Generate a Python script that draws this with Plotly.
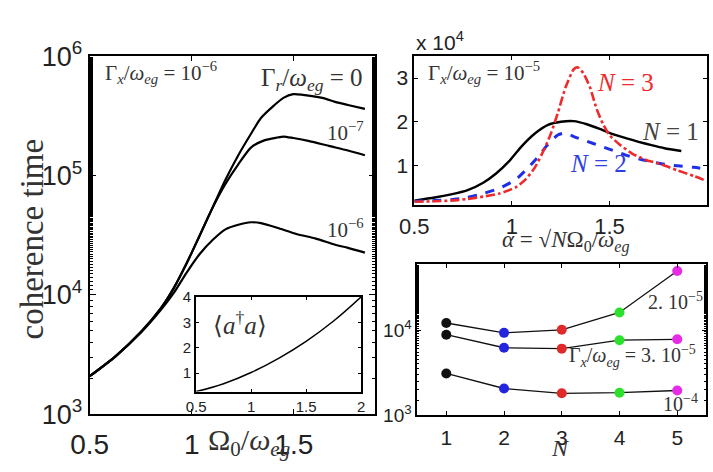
import plotly.graph_objects as go

W, H = 713, 472

# ---------------- data ----------------
# main panel: coherence time vs Omega0/omega_eg  (Gamma_x/omega_eg = 1e-6)
x_r0 = [0.5, 0.628, 0.754, 0.849, 0.912, 0.975, 1.039, 1.102, 1.165, 1.228, 1.291, 1.339,
        1.402, 1.449, 1.497, 1.544, 1.639, 1.702, 1.765, 1.848]
y_r0 = [2084, 3076, 4955, 7745, 11400, 18400, 31500, 53800, 92000, 148000, 225000, 303000,
        385000, 447000, 480000, 474000, 447000, 414000, 390000, 362000]

x_r7 = [0.5, 0.628, 0.754, 0.849, 0.912, 0.975, 1.039, 1.102, 1.165, 1.228, 1.291, 1.355,
        1.418, 1.449, 1.497, 1.576, 1.671, 1.765, 1.848]
y_r7 = [2084, 3076, 4955, 7745, 11400, 18400, 31500, 53800, 85100, 124000, 172000, 197000,
        208000, 212000, 206000, 194000, 177000, 162000, 148000]

x_r6 = [0.5, 0.628, 0.754, 0.849, 0.912, 0.975, 1.039, 1.102, 1.165, 1.228, 1.291, 1.339,
        1.418, 1.513, 1.608, 1.702, 1.765, 1.848]
y_r6 = [2084, 3076, 4900, 7500, 10400, 15400, 22000, 28800, 35400, 38700, 40600, 39900,
        36500, 32400, 29600, 26300, 24800, 22600]

main_xticks = [0.5, 1, 1.5]
main_xticktext = ["0.5", "1", "1.5"]
main_yticks = [1e3, 1e4, 1e5, 1e6]
main_yticktext = ["10<sup>3</sup>", "10<sup>4</sup>", "10<sup>5</sup>", "10<sup>6</sup>"]

# inset: <a^dagger a>
inset_x = [0.5, 0.75, 1.0, 1.25, 1.5, 1.75, 2.0]
inset_y = [0.27, 0.58, 1.02, 1.58, 2.25, 3.05, 4.0]
inset_xticks = [0.5, 1, 1.5, 2]
inset_xticktext = ["0.5", "1", "1.5", "2"]
inset_yticks = [1, 2, 3, 4]

# top right: coherence time (x 10^4) vs alpha, Gamma_x/omega_eg = 1e-5
n1_x = [0.5, 0.604, 0.688, 0.770, 0.853, 0.919, 0.986, 1.052, 1.118, 1.185, 1.251, 1.317,
        1.384, 1.450, 1.517, 1.583, 1.649, 1.715, 1.782, 1.868]
n1_y = [0.206, 0.276, 0.347, 0.438, 0.613, 0.823, 1.105, 1.455, 1.737, 1.933, 2.003, 2.017,
        1.947, 1.842, 1.722, 1.632, 1.547, 1.469, 1.399, 1.337]

n2_x = [0.5, 0.604, 0.688, 0.770, 0.853, 0.936, 1.019, 1.085, 1.135, 1.185, 1.235, 1.276,
        1.317, 1.384, 1.450, 1.517, 1.583, 1.649, 1.715, 1.782, 1.848, 1.931, 2.0]
n2_y = [0.192, 0.206, 0.227, 0.276, 0.368, 0.487, 0.684, 0.964, 1.21, 1.491, 1.701, 1.749,
        1.665, 1.56, 1.455, 1.35, 1.244, 1.16, 1.09, 1.034, 1.0, 0.964, 0.916]

n3_x = [0.5, 0.604, 0.688, 0.770, 0.853, 0.936, 1.019, 1.069, 1.118, 1.168, 1.201, 1.235,
        1.276, 1.317, 1.337, 1.367, 1.400, 1.434, 1.467, 1.5, 1.55, 1.616, 1.683, 1.765,
        1.848, 1.931, 2.0]
n3_y = [0.179, 0.192, 0.206, 0.241, 0.297, 0.368, 0.508, 0.684, 0.964, 1.40, 1.75, 2.20,
        2.80, 3.20, 3.244, 3.105, 2.789, 2.30, 1.95, 1.70, 1.491, 1.279, 1.139, 1.034,
        0.895, 0.768, 0.648]

tr_xticks = [0.5, 1, 1.5, 2]
tr_xticktext = ["0.5", "1", "1.5", "2"]
tr_yticks = [1, 2, 3]

# bottom right: coherence time vs N
N_vals = [1, 2, 3, 4, 5]
t_2e5 = [12100, 9270, 10070, 16100, 49600]
t_3e5 = [8820, 6190, 6040, 7590, 7780]
t_1e4 = [3080, 2050, 1800, 1830, 1940]
N_colors = ["#111111", "#2424e0", "#e02a2a", "#2ee02e", "#e62ae6"]
br_yticks = [1e3, 1e4]
br_yticktext = ["10<sup>3</sup>", "10<sup>4</sup>"]

# ---------------- helpers ----------------
def px(x):
    return x / W

def py(y):
    return 1 - y / H

SANS = "Liberation Sans, Arial, sans-serif"
SERIF = "Liberation Serif, Times New Roman, serif"
TXT = "#333333"

fig = go.Figure()

# main curves
for xs, ys in [(x_r0, y_r0), (x_r7, y_r7), (x_r6, y_r6)]:
    fig.add_trace(go.Scatter(x=xs, y=ys, mode="lines", xaxis="x", yaxis="y",
                             line=dict(color="black", width=2.2, shape="spline", smoothing=0.7),
                             showlegend=False))
# inset
fig.add_trace(go.Scatter(x=inset_x, y=inset_y, mode="lines", xaxis="x2", yaxis="y2",
                         line=dict(color="black", width=1.5, shape="spline"), showlegend=False))
# top right
fig.add_trace(go.Scatter(x=n1_x, y=n1_y, mode="lines", xaxis="x3", yaxis="y3",
                         line=dict(color="black", width=2.4, shape="spline", smoothing=0.6),
                         showlegend=False))
fig.add_trace(go.Scatter(x=n2_x, y=n2_y, mode="lines", xaxis="x3", yaxis="y3",
                         line=dict(color="#1f2fe6", width=3, dash="dash", shape="spline", smoothing=0.6),
                         showlegend=False))
fig.add_trace(go.Scatter(x=n3_x, y=n3_y, mode="lines", xaxis="x3", yaxis="y3",
                         line=dict(color="#ee2a2a", width=2.6, dash="dashdot", shape="spline", smoothing=0.6),
                         showlegend=False))
# bottom right
for ys in [t_2e5, t_3e5, t_1e4]:
    fig.add_trace(go.Scatter(x=N_vals, y=ys, mode="lines+markers", xaxis="x4", yaxis="y4",
                             line=dict(color="#111111", width=1.3),
                             marker=dict(color=N_colors, size=10),
                             showlegend=False))

axis_common = dict(showline=True, linecolor="black", mirror="allticks", ticks="inside",
                   showgrid=False, zeroline=False, tickcolor="black")

fig.update_layout(
    width=W, height=H,
    margin=dict(l=0, r=0, t=0, b=0),
    paper_bgcolor="white", plot_bgcolor="rgba(0,0,0,0)",
    xaxis=dict(**axis_common, domain=[px(73), px(368)], range=[0.5, 1.898],
               tickvals=main_xticks, ticktext=main_xticktext, ticklen=5, linewidth=2,
               ticklabelstandoff=4,
               tickfont=dict(family=SANS, size=28, color="#222")),
    yaxis=dict(**axis_common, type="log", domain=[py(426), py(40)], range=[3, 6],
               tickvals=main_yticks, ticktext=main_yticktext, ticklen=6, linewidth=2,
               minor=dict(ticks="inside", ticklen=3, tickcolor="black", showgrid=False),
               tickfont=dict(family=SANS, size=27, color="#222"), anchor="x"),
    xaxis2=dict(**axis_common, domain=[px(183), px(353.5)], range=[0.5, 2],
                tickvals=inset_xticks, ticktext=inset_xticktext, ticklen=3,
                linewidth=2, anchor="y2",
                tickfont=dict(family=SANS, size=15, color="#222")),
    yaxis2=dict(**axis_common, domain=[py(401.5), py(299.5)], range=[0.27, 4],
                tickvals=inset_yticks, ticklen=3, linewidth=2, anchor="x2",
                tickfont=dict(family=SANS, size=15, color="#222")),
    xaxis3=dict(**axis_common, domain=[px(408.5), px(711)], range=[0.5, 2],
                tickvals=tr_xticks, ticktext=tr_xticktext, ticklen=4, linewidth=2, anchor="y3",
                tickfont=dict(family=SANS, size=22, color="#222")),
    yaxis3=dict(**axis_common, domain=[py(200.7), py(40)], range=[0.1, 3.5],
                tickvals=tr_yticks, ticklen=4, linewidth=2, anchor="x3",
                tickfont=dict(family=SANS, size=21, color="#222")),
    xaxis4=dict(**axis_common, domain=[px(411.7), px(710)], range=[0.5, 5.5],
                tickvals=N_vals, ticklen=4, linewidth=2, anchor="y4",
                ticklabelstandoff=3,
                tickfont=dict(family=SANS, size=21, color="#222")),
    yaxis4=dict(**axis_common, type="log", domain=[py(426.7), py(264)], range=[3, 4.778],
                tickvals=br_yticks, ticktext=br_yticktext, ticklen=4, linewidth=2, anchor="x4",
                minor=dict(ticks="inside", ticklen=2, tickcolor="black", showgrid=False),
                tickfont=dict(family=SANS, size=19, color="#222")),
)

def ann(text, x, y, size, color=TXT, family=SERIF, angle=0, xanchor="center"):
    fig.add_annotation(text=text, x=px(x), y=py(y), xref="paper", yref="paper",
                       showarrow=False, xanchor=xanchor, yanchor="middle", textangle=angle,
                       font=dict(family=family, size=size, color=color))

# main panel texts
ann("coherence time", 13, 237, 33, angle=-90)
ann("Ω<sub>0</sub>/<i>ω</i><sub><i>eg</i></sub>", 238, 456, 30)
ann("Γ<sub><i>x</i></sub>/<i>ω</i><sub><i>eg</i></sub> = 10<sup>−6</sup>", 147, 58, 21)
ann("Γ<sub><i>r</i></sub>/<i>ω</i><sub><i>eg</i></sub> = 0", 303, 65, 25)
ann("10<sup>−7</sup>", 337, 121, 21)
ann("10<sup>−6</sup>", 337, 226, 21)
ann("⟨<i>a</i><sup>†</sup><i>a</i>⟩", 228, 328, 25)

# top right texts
ann("x 10<sup>4</sup>", 435, 24, 21, color="#222", family=SANS)
ann("Γ<sub><i>x</i></sub>/<i>ω</i><sub><i>eg</i></sub> = 10<sup>−5</sup>", 480, 58, 21)
ann("<i>N</i> = 3", 627, 68, 25, color="#ee2a2a")
ann("<i>N</i> = 1", 673, 121, 25, color="#444444")
ann("<i>N</i> = 2", 599, 156, 25, color="#2f3fe6")
ann("<i>α</i> = √<i>N</i>Ω<sub>0</sub>/<i>ω</i><sub><i>eg</i></sub>", 565, 240, 23)

# bottom right texts
ann("2. 10<sup>−5</sup>", 678, 304, 20)
ann("Γ<sub><i>x</i></sub>/<i>ω</i><sub><i>eg</i></sub> = 3. 10<sup>−5</sup>", 634, 363, 20)
ann("10<sup>−4</sup>", 684, 414, 20)
ann("<i>N</i>", 560, 462, 24)

fig.write_html("out.html")
